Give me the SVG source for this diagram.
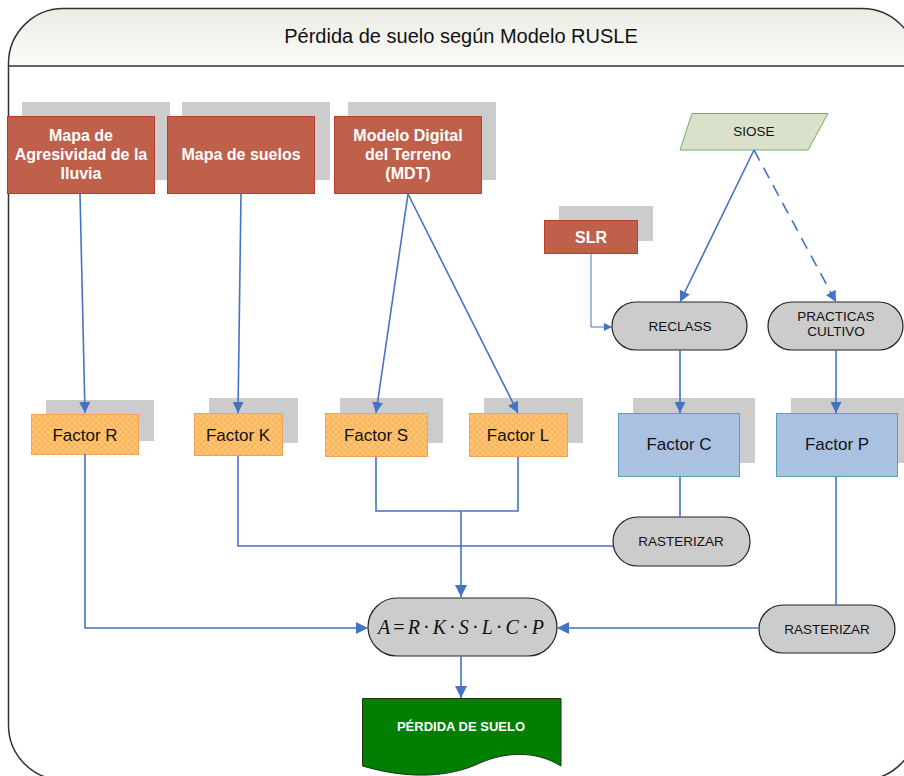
<svg xmlns="http://www.w3.org/2000/svg" width="904" height="776" viewBox="0 0 904 776">
<defs>
<linearGradient id="hdr" x1="0" y1="0" x2="0" y2="1">
<stop offset="0" stop-color="#ecece4"/>
<stop offset="1" stop-color="#fbfbf9"/>
</linearGradient>
<pattern id="hatch" width="6" height="6" patternUnits="userSpaceOnUse">
<rect width="6" height="6" fill="#ffc56e"/>
<path d="M0,3 L3,0 M3,6 L6,3 M0,3 L3,6 M3,0 L6,3" stroke="#f7aa58" stroke-width="0.8" fill="none"/>
</pattern>
<marker id="arr" viewBox="0 0 10 10" refX="10" refY="5" markerWidth="11" markerHeight="11" markerUnits="userSpaceOnUse" orient="auto">
<path d="M0,0 L10,5 L0,10 Z" fill="#4472c4"/>
</marker>
<marker id="arrL" viewBox="0 0 10 10" refX="10" refY="5" markerWidth="12" markerHeight="12" markerUnits="userSpaceOnUse" orient="auto">
<path d="M0,0 L10,5 L0,10 Z" fill="#4472c4"/>
</marker>
<marker id="arrS" viewBox="0 0 10 10" refX="10" refY="5" markerWidth="8" markerHeight="8" markerUnits="userSpaceOnUse" orient="auto">
<path d="M0,0 L10,5 L0,10 Z" fill="#4472c4"/>
</marker>
</defs>
<style>
.sh{fill:#cccccc;}
.red{fill:#bf604b;stroke:#c0392b;stroke-width:1;}
.rt{font-family:"Liberation Sans",Arial,sans-serif;font-weight:bold;font-size:16px;fill:#ffffff;text-anchor:middle;}
.org{fill:url(#hatch);stroke:#f4a05a;stroke-width:1;}
.blu{fill:#abc1e2;stroke:#5a9fb8;stroke-width:1;}
.pill{fill:#cccccc;stroke:#222222;stroke-width:1.2;}
.t{font-family:"Liberation Sans",Arial,sans-serif;font-size:17px;fill:#111111;text-anchor:middle;}
.ts{font-family:"Liberation Sans",Arial,sans-serif;font-size:13.5px;fill:#111111;text-anchor:middle;}
.c{fill:none;stroke:#4472c4;stroke-width:1.6;}
.c1{fill:none;stroke:#4472c4;stroke-width:1;}
</style>

<g id="frame">
<path d="M8.5,66 V63 A55,55 0 0 1 63,8.5 H862 A55,55 0 0 1 917,63 V66 Z" fill="url(#hdr)"/>
<path d="M8.5,66 V63 A55,55 0 0 1 63,8.5 H862 A55,55 0 0 1 917,63 V725 A55,55 0 0 1 862,780 H63 A55,55 0 0 1 8.5,725 Z" fill="none" stroke="#333333" stroke-width="1.5"/>
<line x1="8.5" y1="66" x2="917" y2="66" stroke="#333333" stroke-width="1.5"/>
<text x="461" y="43" font-family="Liberation Sans,Arial,sans-serif" font-size="20" fill="#111" text-anchor="middle">Pérdida de suelo según Modelo RUSLE</text>
</g>

<g id="mapa-agresividad">
<rect class="sh" x="22" y="102" width="148" height="78"/>
<rect class="red" x="7.5" y="116.5" width="147" height="77"/>
<text class="rt" x="81" y="141">Mapa de</text>
<text class="rt" x="81" y="160">Agresividad de la</text>
<text class="rt" x="81" y="179">lluvia</text>
</g>
<g id="mapa-suelos">
<rect class="sh" x="182" y="102" width="148" height="78"/>
<rect class="red" x="167.5" y="116.5" width="147" height="77"/>
<text class="rt" x="241" y="160">Mapa de suelos</text>
</g>
<g id="mdt">
<rect class="sh" x="348" y="102" width="148" height="78"/>
<rect class="red" x="334.5" y="116.5" width="147" height="77"/>
<text class="rt" x="408" y="141">Modelo Digital</text>
<text class="rt" x="408" y="160">del Terreno</text>
<text class="rt" x="408" y="179">(MDT)</text>
</g>
<g id="siose">
<polygon points="692,113.5 828,113.5 808,150 680,150" fill="#d9e1cb" stroke="#6fae6f" stroke-width="1"/>
<text class="ts" x="754" y="136" font-size="14">SIOSE</text>
</g>
<g id="slr">
<rect class="sh" x="559" y="206" width="94" height="35"/>
<rect class="red" x="544.5" y="220.5" width="93" height="33"/>
<text class="rt" x="591" y="243" font-size="17">SLR</text>
</g>
<g id="reclass">
<rect class="pill" x="612" y="302" width="135" height="48" rx="24"/>
<text class="ts" x="680" y="331">RECLASS</text>
</g>
<g id="practicas">
<rect class="pill" x="768" y="302" width="135" height="48" rx="24"/>
<text class="ts" x="836" y="321">PRACTICAS</text>
<text class="ts" x="836" y="336">CULTIVO</text>
</g>
<g id="factor-r">
<rect class="sh" x="46" y="400" width="108" height="41"/>
<rect class="org" x="31.5" y="414.5" width="107" height="40"/>
<text class="t" x="85" y="441">Factor R</text>
</g>
<g id="factor-k">
<rect class="sh" x="209" y="398" width="89" height="45"/>
<rect class="org" x="194.5" y="413.5" width="88" height="42"/>
<text class="t" x="238" y="441">Factor K</text>
</g>
<g id="factor-s">
<rect class="sh" x="340" y="398" width="103" height="45"/>
<rect class="org" x="325.5" y="413.5" width="102" height="43"/>
<text class="t" x="376" y="441">Factor S</text>
</g>
<g id="factor-l">
<rect class="sh" x="484" y="398" width="99" height="45"/>
<rect class="org" x="469.5" y="413.5" width="98" height="43"/>
<text class="t" x="518" y="441">Factor L</text>
</g>
<g id="factor-c">
<rect class="sh" x="633" y="398" width="122" height="65"/>
<rect class="blu" x="618.5" y="413.5" width="121" height="63"/>
<text class="t" x="679" y="450">Factor C</text>
</g>
<g id="factor-p">
<rect class="sh" x="791" y="398" width="122" height="65"/>
<rect class="blu" x="776.5" y="413.5" width="121" height="63"/>
<text class="t" x="837" y="450">Factor P</text>
</g>
<g id="rasterizar-1">
<rect class="pill" x="613" y="517" width="137" height="49" rx="24.5"/>
<text class="ts" x="681" y="546">RASTERIZAR</text>
</g>
<g id="rasterizar-2">
<rect class="pill" x="759" y="605" width="136" height="48" rx="24"/>
<text class="ts" x="827" y="634">RASTERIZAR</text>
</g>
<g id="ecuacion">
<rect class="pill" x="368" y="598" width="189" height="58" rx="29"/>
<text x="461" y="634" font-family="Liberation Serif,'Times New Roman',serif" font-size="20" fill="#111" text-anchor="middle" textLength="166" lengthAdjust="spacing"><tspan font-style="italic">A</tspan>=<tspan font-style="italic">R</tspan>·<tspan font-style="italic">K</tspan>·<tspan font-style="italic">S</tspan>·<tspan font-style="italic">L</tspan>·<tspan font-style="italic">C</tspan>·<tspan font-style="italic">P</tspan></text>
</g>
<g id="perdida-suelo">
<path d="M362.5,698.5 H561 V766 C535,750 505,752 480,763 C450,777 410,780 362.5,766 Z" fill="#007f00" stroke="#1c331c" stroke-width="1"/>
<text x="461" y="731" font-family="Liberation Sans,Arial,sans-serif" font-weight="bold" font-size="13" fill="#ffffff" text-anchor="middle">PÉRDIDA DE SUELO</text>
</g>

<g id="connectors">
<line class="c" x1="80" y1="194" x2="85" y2="413" marker-end="url(#arr)"/>
<line class="c" x1="241" y1="194" x2="238" y2="413" marker-end="url(#arr)"/>
<line class="c" x1="408" y1="194" x2="376" y2="413" marker-end="url(#arr)"/>
<line class="c" x1="408" y1="194" x2="518" y2="413" marker-end="url(#arr)"/>
<line class="c" x1="754" y1="150" x2="680" y2="302" marker-end="url(#arr)"/>
<line class="c" x1="754" y1="150" x2="836" y2="302" stroke-dasharray="12,8" marker-end="url(#arr)"/>
<polyline class="c1" points="591,254 591,327 612,327" marker-end="url(#arrS)"/>
<line class="c" x1="680" y1="350" x2="680" y2="413" marker-end="url(#arr)"/>
<line class="c" x1="836" y1="350" x2="836" y2="413" marker-end="url(#arr)"/>
<polyline class="c" points="376,457 376,511 518,511 518,457"/>
<line class="c" x1="461" y1="511" x2="461" y2="597" marker-end="url(#arrL)"/>
<polyline class="c" points="238,456 238,546 613,546"/>
<line class="c" x1="680" y1="477" x2="680" y2="517"/>
<polyline class="c" points="85,454 85,628 368,628" marker-end="url(#arrL)"/>
<line class="c" x1="836" y1="477" x2="836" y2="605"/>
<line class="c" x1="759" y1="628" x2="557" y2="628" marker-end="url(#arrL)"/>
<line class="c" x1="461" y1="656" x2="461" y2="698" marker-end="url(#arrL)"/>
</g>
</svg>
